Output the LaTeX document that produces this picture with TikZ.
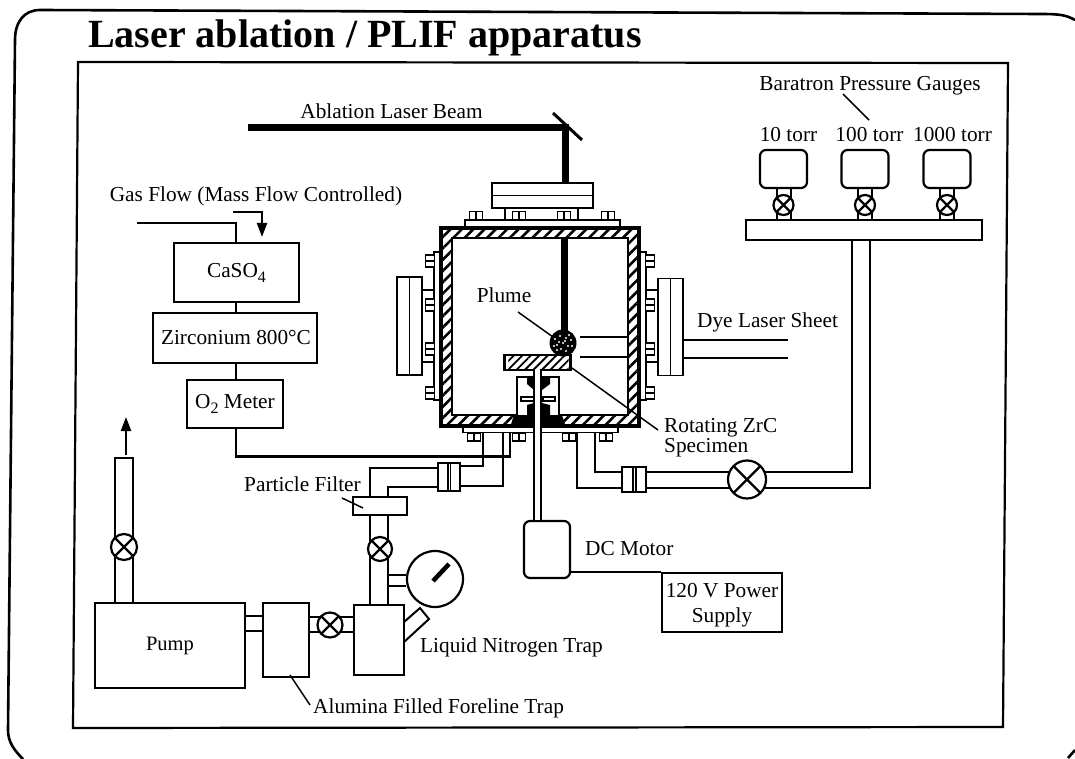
\documentclass[tikz,border=0pt]{standalone}
\usepackage{fontspec}
\setmainfont{Liberation Serif}
\usetikzlibrary{arrows.meta,patterns.meta,calc}
\newcommand{\lowsub}[1]{\raisebox{-5pt}{\fontsize{16}{16}\selectfont #1}}
\tikzset{
  pipeline/.style={line width=2pt},
  boxn/.style={draw,line width=2.2pt,fill=white,inner sep=0pt,align=center,font=\fontsize{21.3}{24}\selectfont},
  rbox/.style={boxn,rounded corners=6pt},
  valve/.style={circle,draw,line width=2.2pt,fill=white,inner sep=0pt,minimum size=#1,
    path picture={\draw[line width=2.2pt] (path picture bounding box.north west)--(path picture bounding box.south east)
      (path picture bounding box.north east)--(path picture bounding box.south west);}},
  lab/.style={inner sep=0pt,font=\fontsize{21.3}{20}\selectfont,align=left},
  leader/.style={line width=1.5pt},
  beam/.style={line width=7pt},
  boltH/.style={draw,line width=1.7pt,fill=white,inner sep=0pt,minimum width=13pt,minimum height=8pt,
    path picture={\draw[line width=1.5pt] (path picture bounding box.north)--(path picture bounding box.south);}},
  boltV/.style={draw,line width=1.7pt,fill=white,inner sep=0pt,minimum width=9pt,minimum height=12pt,
    path picture={\draw[line width=1.5pt] (path picture bounding box.west)--(path picture bounding box.east);}},
  tip/.style={-{Triangle[length=14pt,width=10pt]},line width=2.2pt},
}
\begin{document}
\begin{tikzpicture}[x=1pt,y=-1pt]
\useasboundingbox (0,0) rectangle (1075,759);
% outer frame and inner frame
\draw[line width=2.6pt] (1075,20) .. controls (1066,15) and (1060,14) .. (1040,14) -- (40,10) .. controls (24,10) and (15,22) .. (15,40) -- (8,730) .. controls (8,742) and (14,750) .. (23,759);
\draw[line width=2.6pt] (1068,758) -- (1075,750);
\node[inner sep=0pt,font=\bfseries\fontsize{40}{42}\selectfont,anchor=base west] (title) at (88,48) {Laser ablation / PLIF apparatus};
\coordinate (iA) at (78,62);
\coordinate (iB) at (1008,63);
\coordinate (iC) at (1003,727);
\coordinate (iD) at (73,728);
\draw[line width=2.2pt] (iA) -- (iB) -- (iC) -- (iD) -- cycle;

% ---------- chamber ----------
\coordinate (chTL) at (441,228);
\coordinate (chBR) at (639,426);
\coordinate (wiTL) at (452,238);
\coordinate (wiBR) at (628,415);
% flanges, left
\node[boxn,line width=1.9pt,minimum width=25pt,minimum height=98pt] (winL) at (409.5,326) {};
\draw[line width=1.9pt] (winL.north)--(winL.south);
\draw[line width=1.9pt] (winL.east|-0,290) -- (435,290) (winL.east|-0,362) -- (435,362);
\node[boxn,line width=1.9pt,minimum width=6pt,minimum height=148pt] (plL) at (437,326) {};
\foreach \y/\n in {261/a,305/b,349/c,393/d} \node[boltV] (bl\n) at (430,\y) {};
% right
\node[boxn,line width=1.9pt,minimum width=25pt,minimum height=97pt] (winR) at (670.5,327) {};
\draw[line width=1.9pt] (winR.north)--(winR.south);
\draw[line width=1.9pt] (winR.west|-0,290) -- (645,290) (winR.west|-0,362) -- (645,362);
\node[boxn,line width=1.9pt,minimum width=6pt,minimum height=148pt] (plR) at (643,326) {};
\foreach \y/\n in {261/a,305/b,349/c,393/d} \node[boltV] (br\n) at (650,\y) {};
% top
\node[boxn,line width=1.9pt,minimum width=155pt,minimum height=7pt] (plT) at (542.5,223.5) {};
\foreach \x/\n in {476/a,519/b,564/c,608/d} \node[boltH] (bt\n) at (\x,215.5) {};
\node[boxn,line width=2.2pt,minimum width=101pt,minimum height=25pt] (winT) at (542.5,195.5) {};
\draw[line width=1.9pt] (winT.west)--(winT.east);
\draw[line width=1.9pt] (505,208)--(505,220) (578,208)--(578,220);
% bottom
\node[boxn,line width=1.9pt,minimum width=155pt,minimum height=6pt] (plB) at (540.5,429.5) {};
\foreach \x/\n in {474/a,519/b,569/c,606/d} \node[boltH] (bb\n) at (\x,437) {};
% walls
\path[even odd rule,pattern={Lines[angle=45,distance=8pt,line width=2.6pt]},pattern color=black]
   (chTL) rectangle (chBR) (wiTL) rectangle (wiBR);
\draw[line width=3.6pt] (chTL) rectangle (chBR);
\draw[line width=2.2pt] (wiTL) rectangle (wiBR);

% rotating stage
\node[boxn,line width=1.9pt,minimum width=42pt,minimum height=40pt,anchor=north west] (house) at (516,376) {};
\fill (510,427.5) -- (514,415) -- (527,415) -- (527,405) -- (534,403) -- (534,427.5) -- cycle;
\fill (566,427.5) -- (562,415) -- (550,415) -- (550,405) -- (542,403) -- (542,427.5) -- cycle;
\fill (527,377) -- (527,384) -- (534,390) -- (534,377) -- cycle;
\fill (550,377) -- (550,384) -- (542,390) -- (542,377) -- cycle;
\draw[line width=1.4pt] (521,397) rectangle (534,401) (543,397) rectangle (555,401);
\node[boxn,line width=2.2pt,minimum width=66pt,minimum height=15pt] (spec) at (537.5,362.5) {};
\path[pattern={Lines[angle=45,distance=6pt,line width=1.8pt]},pattern color=black] ([shift={(5,2.5)}]spec.north west) rectangle ([shift={(-3,-2)}]spec.south east);
\fill (531,353.5) rectangle (544,356);
% shaft and motor
\node[rbox,minimum width=46pt,minimum height=57pt] (motor) at (547,549.5) {};
\coordinate (shL) at (534,369);
\coordinate (shR) at (541,369);
\fill[white] (shL) rectangle (shR|-motor.north);
\draw[line width=1.9pt] (shL) -- (shL|-motor.north) (shR) -- (shR|-motor.north);
% beam and plume
\coordinate (beamS) at (248,128);
\coordinate (beamC) at (565,128);
\draw[beam] (beamS) -- (beamC) -- (565,183);
\draw[beam] (564,238) -- (564,332);
\coordinate (mirA) at (553,113);
\coordinate (mirB) at (582,140);
\draw[line width=3pt] (mirA) -- (mirB);
\node[circle,fill=black,minimum size=27pt,inner sep=0pt] (plume) at (563,343) {};
\foreach \a/\b in {-8/-4,-3/-7,3/-5,8/-3,-6/2,0/0,5/3,-2/6,3/8,-9/3,9/3,-4/-1,2/-2,6/-8,-6/7}
  \fill[white] ($(plume)+(\a,\b)$) circle (1.2pt);
\draw[line width=2.2pt] (580,337) -- (628,337) (580,357) -- (628,357);
\draw[line width=2.2pt] (683,340) -- (788,340) (683,358) -- (788,358);
\node[lab] (lplume) at (504,295) {Plume};
\coordinate (pl1) at (518,312);
\coordinate (pl2) at (553,337);
\draw[leader] (pl1) -- (pl2);
\coordinate (rot1) at (572,368);
\coordinate (rot2) at (658,430);
\draw[leader] (rot1) -- (rot2);
\node[lab,anchor=west] (lrot) at (664,437.5) {Rotating ZrC\\Specimen};
\node[lab] (lbeam) at (391.5,111) {Ablation Laser Beam};
\node[lab,anchor=west] (ldye) at (697,322) {Dye Laser Sheet};

% ---------- gas train ----------
\node[lab] (lgas) at (256,196) {Gas Flow (Mass Flow Controlled)};
\node[boxn,minimum width=125pt,minimum height=59pt] (caso) at (236.5,272.5) {CaSO\lowsub{4}};
\node[boxn,minimum width=164pt,minimum height=50pt] (zr) at (235,338) {\hspace{2pt}Zirconium 800°C};
\node[boxn,minimum width=96pt,minimum height=48pt] (o2) at (235,404) {O\lowsub{2} Meter};
\coordinate (gin) at (137,223);
\draw[pipeline,line width=2.2pt] (gin) -| (236,243);
\coordinate (gar) at (233,212);
\draw[tip] (gar) -| (262,237);
\draw[pipeline,line width=2.2pt] (236,302) -- (236,313) (236,363) -- (236,380);
\coordinate (gasin) at (510,456.5);
\draw[pipeline,line width=2.2pt] (236,428) |- (gasin) -- (510,432);

% ---------- vacuum line ----------
\node[boxn,font=\fontsize{20.5}{22}\selectfont,minimum width=150pt,minimum height=85pt] (pump) at (170,645.5) {Pump};
\node[boxn,minimum width=46pt,minimum height=74pt] (alu) at (286,640) {};
\node[boxn,minimum width=50pt,minimum height=70pt] (trap) at (379,640) {};
\node[boxn,minimum width=54pt,minimum height=18pt] (filt) at (380,506) {};
% exhaust
\coordinate (exL) at (115,458);
\coordinate (exR) at (133,458);
\draw[pipeline,line width=2.3pt] (exL|-pump.north) -- (exL) -- (exR) -- (exR|-pump.north);
\node[valve=26pt] (vex) at (124,547) {};
\draw[tip] (126,455) -- (126,417);
% pump to alumina
\draw[pipeline] (pump.east|-0,616) -- (alu.west|-0,616) (pump.east|-0,631) -- (alu.west|-0,631);
% alumina to trap
\draw[pipeline] (alu.east|-0,617) -- (trap.west|-0,617) (alu.east|-0,632) -- (trap.west|-0,632);
\node[valve=25pt] (vfl) at (330,625) {};
% trap up to filter
\coordinate (tpL) at (370,605);
\coordinate (tpR) at (388,605);
\draw[pipeline] (tpL) -- (tpL|-filt.south) (tpR) -- (tpR|-filt.south);
\node[valve=24pt] (vtr) at (380,549) {};
% gauge
\node[circle,draw,line width=2.2pt,fill=white,minimum size=56pt,inner sep=0pt] (dial) at (435,579) {};
\draw[pipeline] (tpR|-0,575) -- (dial.west|-0,575) (tpR|-0,586) -- (dial.west|-0,586);
\draw[line width=4.5pt] (433,581) -- (449,564);
% LN2 arm
\draw[line width=2pt] (404,622) -- (420,608) -- (429,619) -- (404,642);
% filter to chamber
\node[boxn,line width=1.9pt,minimum width=22pt,minimum height=28pt] (cv) at (449,477) {};
\draw[line width=1.6pt] (448,463) -- (448,491) (450.5,463) -- (450.5,491);
\coordinate (fpL) at (370,497);
\coordinate (fpR) at (388,497);
\coordinate (chv1) at (483,433);
\coordinate (chv2) at (503,433);
\draw[pipeline] (fpL) |- (cv.west|-0,468) (fpR) |- (cv.west|-0,487);
\draw[pipeline] (cv.east|-0,466) -| (chv1) (cv.east|-0,486) -| (chv2);
% gauge line
\node[boxn,line width=1.9pt,minimum width=24pt,minimum height=25pt] (cg) at (634,479.5) {};
\draw[line width=1.6pt] (633,467) -- (633,492) (636,467) -- (636,492);
\node[boxn,minimum width=236pt,minimum height=20pt] (bar) at (864,230) {};
\coordinate (br1) at (852,240);
\coordinate (br2) at (870,240);
\coordinate (chg1) at (595,433);
\coordinate (chg2) at (577,433);
\draw[pipeline] (chg1) |- (cg.west|-0,472);
\draw[pipeline] (chg2) |- (cg.west|-0,488);
\draw[pipeline] (cg.east|-0,472) -| (br1);
\draw[pipeline] (cg.east|-0,488) -| (br2);
\node[valve=38pt] (vmain) at (747,479.5) {};
% labels
\node[lab,anchor=west] (lfilt) at (244,484) {Particle Filter};
\draw[leader] (342,498) -- (363,508);
\node[lab,anchor=west] (lliq) at (420,647) {Liquid Nitrogen Trap};
\node[lab,anchor=west] (lalu) at (313,708) {Alumina Filled Foreline Trap};
\draw[leader] (290,675) -- (310,705);

% motor and power
\node[boxn,line width=2.2pt,minimum width=120pt,minimum height=59pt] (pow) at (722,602.5) {};
\node[inner sep=0pt,align=center,font=\fontsize{21.3}{24.5}\selectfont] (lpow) at (722,605) {120 V Power\\Supply};
\draw[pipeline] (motor.east|-pow.north) -- (pow.north west);
\node[lab,anchor=west] (lmot) at (585,549) {DC Motor};

% ---------- Baratrons ----------
\node[lab] (lbar) at (870,86) {Baratron Pressure Gauges};
\draw[leader] (843,94) -- (869,120);
\foreach \x/\n/\t/\lx in {783.5/a/10 torr/788.5,865/b/100 torr/869.5,947/c/1000 torr/952.5}{
  \node[rbox,minimum width=47pt,minimum height=38pt] (g\n) at (\x,169) {};
  \node[lab] (t\n) at (\lx,135) {\t};
  \draw[pipeline] ([xshift=-7pt]g\n.south) -- ([xshift=-7pt]g\n.south|-bar.north) ([xshift=7pt]g\n.south) -- ([xshift=7pt]g\n.south|-bar.north);
  \node[valve=20pt] (v\n) at (\x,205) {};
}
\end{tikzpicture}
\end{document}
